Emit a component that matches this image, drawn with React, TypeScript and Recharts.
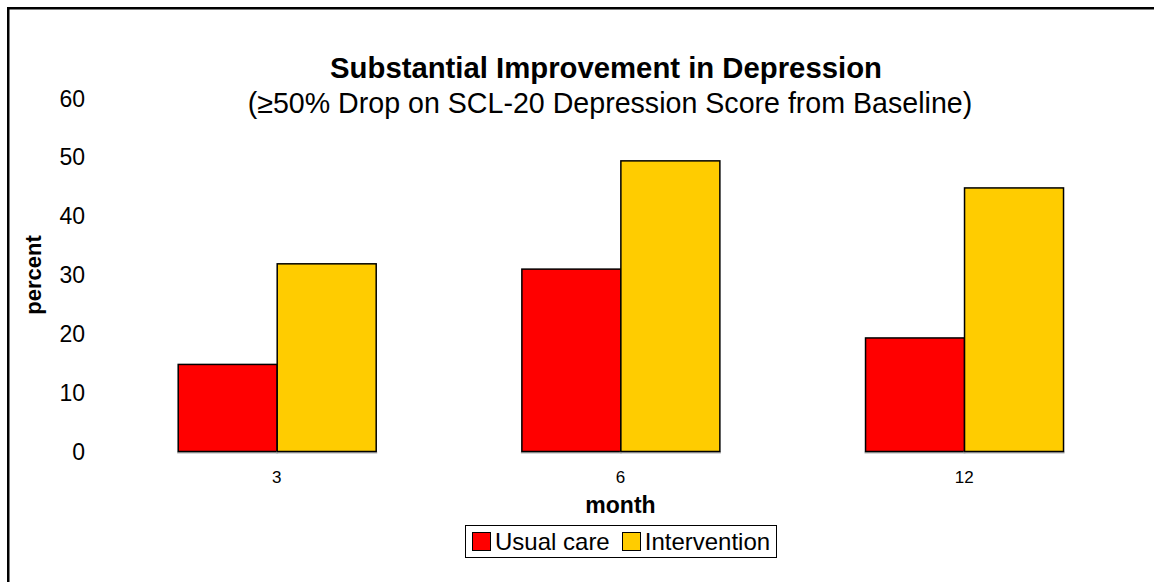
import React from 'react';
import { BarChart, Bar, XAxis, YAxis, Legend } from 'recharts';

const months = ['3', '6', '12'];
const usualCare = [14.8, 31.0, 19.3];
const intervention = [31.9, 49.4, 44.8];
const yTicks = [0, 10, 20, 30, 40, 50, 60];
const seriesNames = ['Usual care', 'Intervention'];
const titleText = 'Substantial Improvement in Depression';
const subtitleText = '(\u226550% Drop on SCL-20 Depression Score from Baseline)';

const data = months.map((m, i) => ({ month: m, usual: usualCare[i], intervention: intervention[i] }));

const FONT = '"Liberation Sans", Arial, Helvetica, sans-serif';

const BarShape = (props: any) => {
  const { x, y, width, height, fill } = props;
  if (width == null || height == null) return null;
  return (
    <g>
      <rect x={x - 1} y={y + height} width={width + 2} height={2} fill="#b0b0b0" />
      <rect x={x} y={y} width={width} height={height} fill={fill} stroke="#000" strokeWidth={1.5} />
    </g>
  );
};

const LegendContent = (props: any) => {
  const payload = [...(props.payload || [])].sort(
    (a: any, b: any) => seriesNames.indexOf(a.value) - seriesNames.indexOf(b.value)
  );
  return (
    <div
      style={{
        display: 'flex',
        alignItems: 'center',
        border: '1px solid #000',
        background: '#fff',
        height: 33,
        paddingLeft: 6,
        paddingRight: 6,
        boxSizing: 'border-box',
        fontFamily: FONT,
        fontSize: 24,
        color: '#000',
        whiteSpace: 'nowrap',
      }}
    >
      {payload.map((p: any, i: number) => (
        <span key={i} style={{ display: 'flex', alignItems: 'center', marginLeft: i === 0 ? 0 : 12 }}>
          <span
            style={{
              display: 'inline-block',
              width: 17,
              height: 17,
              background: p.color,
              border: '1px solid #000',
              marginRight: 4,
            }}
          />
          <span>{p.value}</span>
        </span>
      ))}
    </div>
  );
};

export default function App() {
  return (
    <div style={{ position: 'absolute', left: 0, top: 0, width: 1154, height: 582, background: '#fff', fontFamily: FONT }}>
      <BarChart
        width={1154}
        height={582}
        data={data}
        margin={{ top: 98.5, right: 18, bottom: 85.5, left: 5 }}
        barCategoryGap="21.3%"
        barGap={0}
        style={{ fontFamily: FONT }}
      >
        <XAxis
          dataKey="month"
          height={45}
          tickLine={false}
          axisLine={false}
          tickSize={0}
          tickMargin={19}
          tick={{ fontSize: 17, fill: '#000' }}
          label={{ value: 'month', position: 'bottom', offset: 0, style: { fontSize: 23, fontWeight: 'bold', fill: '#000' } }}
        />
        <YAxis
          width={100}
          domain={[0, 60]}
          ticks={yTicks}
          interval={0}
          tickLine={false}
          axisLine={false}
          tickSize={0}
          tickMargin={20}
          tick={{ fontSize: 23, fill: '#000' }}
          label={{
            value: 'percent',
            angle: -90,
            position: 'insideLeft',
            offset: 28,
            style: { fontSize: 22, fontWeight: 'bold', fill: '#000', textAnchor: 'middle' },
          }}
        />
        <Legend
          layout="vertical"
          align="center"
          verticalAlign="middle"
          wrapperStyle={{ left: 465, top: 525, width: 312, height: 33 }}
          content={<LegendContent />}
        />
        <Bar dataKey="usual" name={seriesNames[0]} fill="#FF0000" shape={<BarShape />} isAnimationActive={false} />
        <Bar dataKey="intervention" name={seriesNames[1]} fill="#FFCC00" shape={<BarShape />} isAnimationActive={false} />
      </BarChart>
      <svg
        width={1154}
        height={582}
        style={{ position: 'absolute', left: 0, top: 0, pointerEvents: 'none' }}
      >
        <rect x={7} y={7} width={2.5} height={575} fill="#000" />
        <rect x={7} y={7} width={1147} height={2.5} fill="#000" />
        <text x={606} y={78} textAnchor="middle" fontFamily={FONT} fontSize={29.3} fontWeight="bold" fill="#000">
          {titleText}
        </text>
        <text x={610} y={113} textAnchor="middle" fontFamily={FONT} fontSize={28.6} fill="#000">
          {subtitleText}
        </text>
      </svg>
    </div>
  );
}
